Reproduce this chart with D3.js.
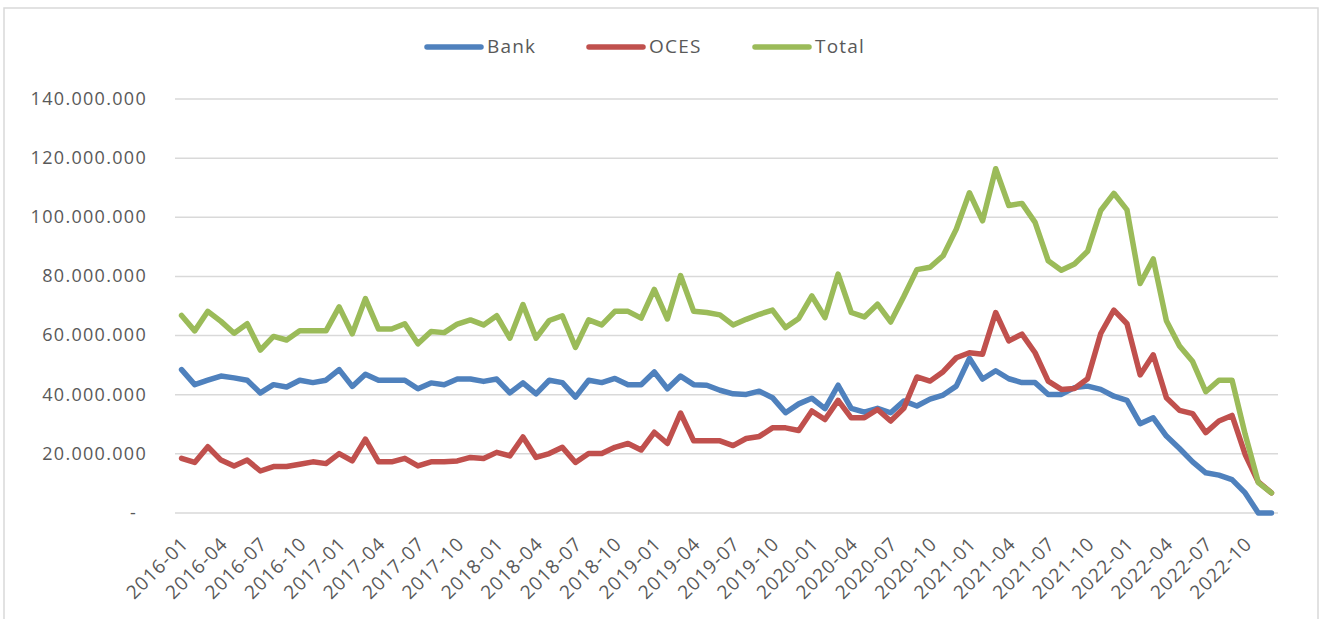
<!DOCTYPE html>
<html>
<head>
<meta charset="utf-8">
<script src="https://cdn.jsdelivr.net/npm/d3@7"></script>
<style>
  body { margin: 0; background: #fff; }
  text { font-family: "Open Sans", "Liberation Sans", sans-serif; fill: #595959; }
</style>
</head>
<body>
<div id="chart"></div>
<script>
// monthly categories 2016-01 .. 2022-12
const months = d3.timeMonth.range(new Date(2016, 0, 1), new Date(2023, 0, 1)).map(d3.timeFormat('%Y-%m'));

const xTickLabels = ['2016-01','2016-04','2016-07','2016-10','2017-01','2017-04','2017-07','2017-10',
  '2018-01','2018-04','2018-07','2018-10','2019-01','2019-04','2019-07','2019-10',
  '2020-01','2020-04','2020-07','2020-10','2021-01','2021-04','2021-07','2021-10',
  '2022-01','2022-04','2022-07','2022-10'];

const yTicks = [0, 20e6, 40e6, 60e6, 80e6, 100e6, 120e6, 140e6];
const yTickLabels = ['-', '20.000.000', '40.000.000', '60.000.000', '80.000.000', '100.000.000', '120.000.000', '140.000.000'];

// values in millions
const bank = [48.5,43.4,44.9,46.3,45.7,44.9,40.6,43.4,42.6,44.9,44.1,44.9,
  48.5,42.8,46.9,44.9,44.9,44.9,42.0,44.0,43.4,45.3,45.3,44.5,
  45.3,40.6,44.0,40.3,44.9,44.1,39.2,44.9,44.1,45.5,43.4,43.4,
  47.7,42.0,46.3,43.4,43.2,41.5,40.3,40.1,41.2,39.0,33.9,36.9,
  38.8,35.3,43.2,35.4,34.1,35.4,33.9,37.9,36.2,38.5,39.9,42.9,
  52.3,45.3,48.1,45.4,44.1,44.1,40.1,40.1,42.4,42.9,41.8,39.5,
  38.1,30.2,32.2,26.0,21.8,17.3,13.6,12.8,11.3,6.8,0,0];
const oces = [18.5,17.1,22.4,17.9,15.9,17.9,14.2,15.7,15.7,16.5,17.3,16.7,
  20.1,17.6,25.0,17.3,17.3,18.5,15.9,17.3,17.3,17.6,18.8,18.4,
  20.5,19.3,25.7,18.8,20.1,22.2,17.1,20.1,20.1,22.2,23.5,21.3,
  27.3,23.5,33.8,24.4,24.4,24.4,22.8,25.2,25.9,28.8,28.8,27.9,
  34.5,31.6,38.1,32.2,32.2,35.0,31.1,35.4,46.0,44.6,47.8,52.5,
  54.2,53.7,67.8,58.2,60.5,54.2,44.6,41.8,42.1,45.4,60.7,68.6,
  64.0,46.7,53.5,39.0,34.7,33.6,27.2,31.1,33.0,19.8,10.5,6.8];
const total = [66.8,61.6,68.2,64.8,60.8,64.0,55.1,59.7,58.5,61.6,61.6,61.6,
  69.7,60.6,72.5,62.2,62.2,64.0,57.2,61.4,61.0,63.9,65.3,63.6,
  66.7,59.1,70.5,59.1,65.1,66.7,56.0,65.3,63.6,68.2,68.2,65.9,
  75.6,65.6,80.3,68.2,67.8,67.0,63.6,65.5,67.2,68.6,62.7,65.8,
  73.4,66.1,80.8,67.8,66.3,70.6,64.6,73.2,82.3,83.1,87.0,96.0,
  108.3,98.8,116.4,104.0,104.7,98.3,85.3,82.1,84.2,88.5,102.3,108.1,
  102.5,77.6,85.9,65.0,56.5,51.2,41.0,44.9,44.9,26.6,10.3,6.8];

const seriesNames = ['Bank', 'OCES', 'Total'];
const seriesColors = ['#4F81BD', '#C0504D', '#9BBB59'];
const series = [bank, oces, total];

const width = 1322, height = 619;
const plot = { left: 175, right: 1278, top: 99, bottom: 513 };

const svg = d3.select('#chart').append('svg')
    .attr('width', width)
    .attr('height', height);

// chart border
svg.append('rect')
    .attr('x', 4).attr('y', 8)
    .attr('width', 1314).attr('height', 640)
    .attr('fill', 'none')
    .attr('stroke', '#D9D9D9')
    .attr('stroke-width', 1.5);

const xScale = d3.scalePoint()
    .domain(months)
    .range([plot.left, plot.right])
    .padding(0.5);

const yScale = d3.scaleLinear()
    .domain([0, 140e6])
    .range([plot.bottom, plot.top]);

// gridlines
svg.append('g').selectAll('line').data(yTicks).enter()
    .append('line')
    .attr('x1', plot.left).attr('x2', plot.right)
    .attr('y1', d => yScale(d)).attr('y2', d => yScale(d))
    .attr('stroke', '#D9D9D9')
    .attr('stroke-width', 1.5);

// y labels
svg.append('g').selectAll('text').data(yTicks).enter()
    .append('text')
    .attr('x', (d, i) => yTickLabels[i] === '-' ? 137 : 147)
    .attr('y', d => yScale(d) + 1)
    .attr('text-anchor', 'end')
    .attr('dominant-baseline', 'middle')
    .style('font-size', '18px')
    .style('letter-spacing', '1.3px')
    .text((d, i) => yTickLabels[i]);

// x labels, rotated
svg.append('g').selectAll('text').data(xTickLabels).enter()
    .append('text')
    .attr('text-anchor', 'end')
    .attr('transform', d => `translate(${xScale(d) + 8},${545}) rotate(-45)`)
    .style('font-size', '19px')
    .style('letter-spacing', '1px')
    .text(d => d);

const line = d3.line()
    .x((d, i) => xScale(months[i]))
    .y(d => yScale(d * 1e6));

svg.append('g').selectAll('path').data(series).enter()
    .append('path')
    .attr('d', d => line(d))
    .attr('fill', 'none')
    .attr('stroke', (d, i) => seriesColors[i])
    .attr('stroke-width', 5.5)
    .attr('stroke-linejoin', 'round')
    .attr('stroke-linecap', 'round');

// legend
const legendX = [427, 589, 755];
const legend = svg.append('g').selectAll('g').data(seriesNames).enter()
    .append('g')
    .attr('transform', (d, i) => `translate(${legendX[i]},47)`);

legend.append('line')
    .attr('x1', 0).attr('x2', 54)
    .attr('stroke', (d, i) => seriesColors[i])
    .attr('stroke-width', 5.5)
    .attr('stroke-linecap', 'round');

legend.append('text')
    .attr('x', 60)
    .attr('dominant-baseline', 'middle')
    .attr('y', 1)
    .style('font-size', '19px')
    .style('letter-spacing', '1.2px')
    .text(d => d);
</script>
</body>
</html>
